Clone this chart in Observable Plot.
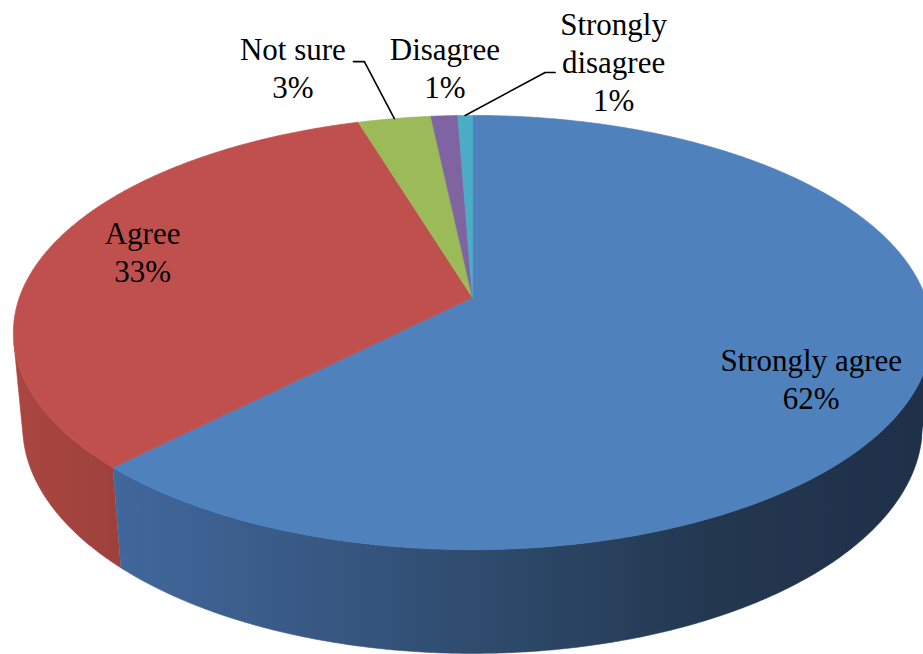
<!DOCTYPE html>
<html><head><meta charset="utf-8">
<script src="https://cdn.jsdelivr.net/npm/d3@7"></script>
<script src="https://cdn.jsdelivr.net/npm/@observablehq/plot@0.6"></script>
<style>html,body{margin:0;padding:0;background:#fff;}</style>
</head><body><div id="chart"></div>
<script>
// ---- data ----
const categories = ["Strongly agree", "Agree", "Not sure", "Disagree", "Strongly disagree"];
const shares = [62.4, 32.9, 3.0, 1.1, 0.6];
const percentText = ["62%", "33%", "3%", "1%", "1%"];
const labelNames = ["Strongly agree", "Agree", "Not sure", "Disagree", "Strongly\ndisagree"];

// ---- style / layout ----
const topColors = ["#4f81bd", "#c0504d", "#9bbb59", "#8064a2", "#4bacc6"];
const sideStops = [
  [[0, "#4a74a8"], [130, "#40669a"], [320, "#385883"], [520, "#2c4868"], [720, "#23374f"], [923, "#1f3049"]],
  [[0, "#ab4743"], [60, "#a5443f"], [130, "#9c403c"], [923, "#7a302d"]],
  [[0, "#7e9a46"], [923, "#4f6129"]],
  [[0, "#67508a"], [923, "#3c2e52"]],
  [[0, "#3d8fa6"], [923, "#23566a"]]
];
const labelR = [0.77, 0.77, 1, 1, 1];
const labelOffsets = [[0, 47], [-1, 22], [-101.5, -21], [0.5, -18.3], [148.4, -4.7]];
const leaderOffsets = {2: [[-30, -57], [-41, -57]], 4: [[80, -43], [90, -43]]};
const lineStep = 38;
const labelFont = "Liberation Serif";

const W = 923, H = 654;
const cam = {cx: 472, cy: 297, f: 2483, d: 5.48, sinP: 0.4667, cosP: 0.8844, h: 0.235};

function project(X, Z, Y) {
  const zc = cam.d - (Y * cam.sinP + Z * cam.cosP);
  const yc = Y * cam.cosP - Z * cam.sinP;
  return [cam.cx + cam.f * X / zc, cam.cy - cam.f * yc / zc];
}
function rimPoint(deg, r = 1, Y = 0) {
  const a = deg * Math.PI / 180;
  return project(r * Math.sin(a), -r * Math.cos(a), Y);
}
function arc(a0, a1, Y) {
  const n = Math.max(2, Math.ceil((a1 - a0) / 0.4));
  return d3.range(n + 1).map(k => rimPoint(a0 + (a1 - a0) * k / n, 1, Y));
}

const total = d3.sum(shares);
let acc = 0;
const slices = categories.map((c, i) => {
  const a0 = acc / total * 360; acc += shares[i];
  const a1 = acc / total * 360;
  return {c, i, a0, a1, mid: (a0 + a1) / 2};
});

// visible wall range (outward normal faces the camera)
const vmin = Math.acos(-1 / (cam.d * cam.cosP)) * 180 / Math.PI;
const vmax = 360 - vmin;

const px = {x: d => d[0], y: d => d[1]};

// gradient definitions
const defsMark = () => {
  const ns = "http://www.w3.org/2000/svg";
  const defs = document.createElementNS(ns, "defs");
  sideStops.forEach((stops, i) => {
    const g = document.createElementNS(ns, "linearGradient");
    g.setAttribute("id", "side" + i);
    g.setAttribute("gradientUnits", "userSpaceOnUse");
    g.setAttribute("x1", 0); g.setAttribute("y1", 0);
    g.setAttribute("x2", W); g.setAttribute("y2", 0);
    stops.forEach(([o, col]) => {
      const s = document.createElementNS(ns, "stop");
      s.setAttribute("offset", o / W);
      s.setAttribute("stop-color", col);
      g.appendChild(s);
    });
    defs.appendChild(g);
  });
  return defs;
};

const marks = [defsMark];

// side walls
slices.forEach(s => {
  const b0 = Math.max(s.a0, vmin), b1 = Math.min(s.a1, vmax);
  if (b1 <= b0) return;
  const pts = [...arc(b0, b1, 0), ...arc(b0, b1, -cam.h).reverse()];
  marks.push(Plot.line(pts, {...px, fill: `url(#side${s.i})`, stroke: `url(#side${s.i})`, strokeWidth: 0.6}));
});

// top faces
const center = project(0, 0, 0);
slices.forEach(s => {
  const pts = [center, ...arc(s.a0, s.a1, 0), center];
  marks.push(Plot.line(pts, {...px, fill: topColors[s.i], stroke: topColors[s.i], strokeWidth: 0.7}));
});

// labels: one text row per line, last line's baseline at the offset point
const anchors = slices.map(s => rimPoint(s.mid, labelR[s.i], 0));
const labelRows = [];
slices.forEach(s => {
  const lines = (labelNames[s.i] + "\n" + percentText[s.i]).split("\n");
  const bx = anchors[s.i][0] + labelOffsets[s.i][0];
  const by = anchors[s.i][1] + labelOffsets[s.i][1];
  lines.forEach((t, k) => labelRows.push({x: bx, y: by - (lines.length - 1 - k) * lineStep, text: t}));
});

// leader lines
Object.entries(leaderOffsets).forEach(([k, offs]) => {
  const a = anchors[+k];
  const pts = [a, ...offs.map(o => [a[0] + o[0], a[1] + o[1]])];
  marks.push(Plot.line(pts, {...px, stroke: "black", strokeWidth: 1.6}));
});

marks.push(Plot.text(labelRows, {
  x: "x", y: "y", text: "text", fontSize: 31, fontFamily: labelFont,
  lineAnchor: "bottom", textAnchor: "middle", fill: "black"
}));

const chart = Plot.plot({
  width: W, height: H,
  margin: 0,
  axis: null,
  x: {type: "identity"},
  y: {type: "identity"},
  marks
});
document.getElementById("chart").appendChild(chart);
</script>
</body></html>
